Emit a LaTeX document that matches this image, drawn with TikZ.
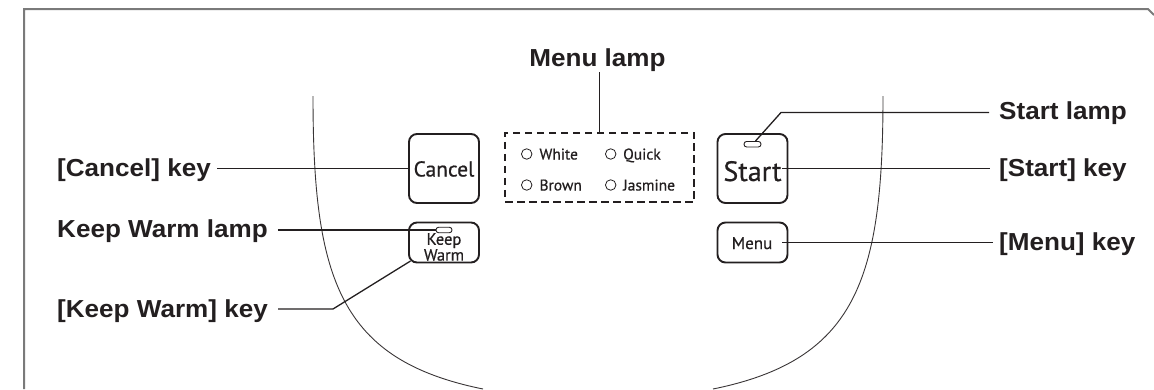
\documentclass[tikz,border=0pt]{standalone}
\usepackage{fontspec}
\setmainfont{Liberation Sans}[FakeStretch=1.06]
\newfontfamily\keyfont{PT Sans}[FakeBold=0.6]
\usetikzlibrary{calc}
\definecolor{ink}{HTML}{231F20}
\definecolor{framec}{HTML}{7A7A7A}
\begin{document}
\begin{tikzpicture}[x=1pt,y=-1pt,
  lbl/.style={font=\fontsize{24.6}{24.6}\selectfont\bfseries, text=ink, inner sep=0pt, anchor=base west},
  keybox/.style={draw=ink, line width=1.9pt, rounded corners=8pt, inner sep=0pt},
  keytext/.style={font=\keyfont, text=ink, inner sep=0pt},
  lead/.style={draw=ink, line width=1.3pt},
  lampc/.style={draw=ink, line width=0.9pt, rounded corners=2.6pt, inner sep=0pt, minimum height=5.5pt},
  opt/.style={font=\keyfont\fontsize{15.5}{15.5}\selectfont, text=ink, inner sep=0pt, anchor=base west},
  optc/.style={circle, draw=ink, line width=0.8pt, minimum size=10.5pt, inner sep=0pt},
  outline/.style={draw=ink!90, line width=0.9pt}
]
\useasboundingbox (0,0) rectangle (1154,389);
% frame
\draw[framec, line width=2pt] (24,389) -- (24,9) -- (1148,9) -- (1154,15);
% body outline
\draw[outline] (313,96) .. controls (313,280) and (340,360) .. (483,389);
\draw[outline] (883,96) .. controls (883,280) and (856,360) .. (713,389);

% keys
\node[keybox, minimum width=70pt, minimum height=69pt] (cancel) at (444,168.5) {};
\node[keytext, font=\keyfont\fontsize{21.5}{21.5}\selectfont, anchor=base] (cancelt) at (444,176.5) {Cancel};
\node[keybox, minimum width=70pt, minimum height=40pt] (kw) at (444,242.5) {};
\node[lampc, minimum width=16pt] (kwlamp) at (444,230) {};
\node[keytext, font=\keyfont\fontsize{16.5}{11.5}\selectfont, align=center] (kwt) at (444,247) {Keep\\Warm};
\node[keybox, minimum width=70pt, minimum height=69pt] (start) at (752.5,168.5) {};
\node[lampc, minimum width=17pt] (slamp) at (752.5,144.2) {};
\node[keytext, font=\keyfont\fontsize{28}{28}\selectfont, anchor=base] (startt) at (752.5,181) {Start};
\node[keybox, minimum width=70pt, minimum height=40pt] (menu) at (752.5,242.5) {};
\node[keytext, font=\keyfont\fontsize{17}{17}\selectfont, anchor=base] (menut) at (752,249) {Menu};

% menu lamps
\node[draw=ink, line width=2.2pt, dash pattern=on 7.5pt off 4.5pt, minimum width=189pt, minimum height=69pt, inner sep=0pt] (mbox) at (599.5,167.3) {};
\node[optc] (c1) at (526.7,154) {};
\node[opt] (o1) at (539.3,159.5) {White};
\node[optc] (c2) at (610.7,154) {};
\node[opt] (o2) at (623,159.5) {Quick};
\node[optc] (c3) at (526.7,185) {};
\node[opt] (o3) at (539.3,190.5) {Brown};
\node[optc] (c4) at (610.7,185) {};
\node[opt] (o4) at (623,190.5) {Jasmine};

% labels
\node[lbl, anchor=base] (mlampL) at (597.5,66.7) {Menu lamp};
\node[lbl] (cancelL) at (57,176) {[Cancel] key};
\node[lbl] (kwlampL) at (57,237.5) {Keep Warm lamp};
\node[lbl] (kwkeyL) at (57,317) {[Keep Warm] key};
\node[lbl] (slampL) at (999,119.5) {Start lamp};
\node[lbl] (startL) at (999,176) {[Start] key};
\node[lbl] (menuL) at (999,250.5) {[Menu] key};

% leaders
\draw[lead] (mbox.north |- mlampL.south) -- (mbox.north);
\draw[lead] ([xshift=6pt]cancelL.east |- cancel.west) -- (cancel.west);
\draw[lead] ([xshift=10pt]kwlampL.east |- kwlamp.west) -- (kwlamp.west);
\draw[lead] ([xshift=10pt]kwkeyL.east |- 0,309) -- (333,309) -- ($(kw.south west)+(2.4,-2.4)$);
\draw[lead] ($(slamp.north)+(3,0)$) -- (781,112.5) -- ([xshift=-10pt]slampL.west |- 0,112.5);
\draw[lead] (startt.east |- start.east) -- ([xshift=-9pt]startL.west |- start.east);
\draw[lead] ([xshift=-6pt]menu.east) -- ([xshift=-6pt]menuL.west |- menu.east);
\end{tikzpicture}
\end{document}
